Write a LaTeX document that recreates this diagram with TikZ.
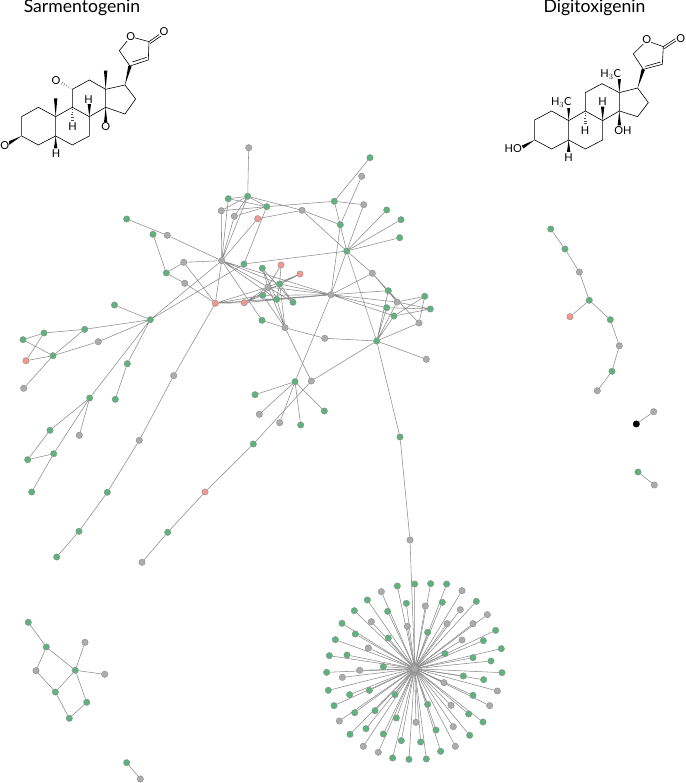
\documentclass[tikz,border=0pt]{standalone}
\usepackage{fontspec}
\setmainfont{Lato}
\usetikzlibrary{backgrounds,calc}
\definecolor{vgreen}{RGB}{92,180,124}
\definecolor{vgray}{RGB}{172,172,172}
\definecolor{vred}{RGB}{242,152,142}
\newcommand{\wedgebond}[2]{\fill[black] #1--($#2!1.7pt!90:#1$)--($#2!1.7pt!-90:#1$)--cycle;}
\newcommand{\hashbond}[2]{\foreach \hb in {.15,.35,.55,.75,.95}{
  \coordinate (hc) at ($#1!\hb!#2$);
  \draw[line width=0.4pt,black!70] ($(hc)!\hb*1.8pt!90:#1$)--($(hc)!\hb*1.8pt!-90:#1$);}}
\begin{document}
\begin{tikzpicture}[
  x=1pt,y=-1pt,
  vtx/.style={circle,draw=black!45,line width=0.4pt,inner sep=0pt,minimum size=6.4pt},
  grn/.style={vtx,fill=vgreen},
  gry/.style={vtx,fill=vgray},
  red/.style={vtx,fill=vred},
  blk/.style={vtx,fill=black,draw=black},
  edge/.style={draw=black!45,line width=0.55pt},
  bond/.style={draw=black,line width=0.6pt},
  title/.style={font=\fontsize{17.6}{20}\selectfont,anchor=base,inner sep=0pt},
  atom/.style={font=\fontsize{11}{13}\selectfont,fill=white,inner sep=0.3pt}]
\useasboundingbox (0,0) rectangle (685,783);
\node[title] (sarm) at (82,12.5) {Sarmentogenin};
\node[title] (digi) at (594.5,12.5) {Digitoxigenin};

% sarmentogenin
\begin{scope}[x=0.3333pt,y=-0.3333pt]
\draw[bond] (65,350)--(115,322)--(167,350)--(167,408)--(115,435)--(65,408)--cycle;
\draw[bond] (167,350)--(217,322)--(268,350)--(268,408)--(217,435)--(167,408);
\draw[bond] (217,322)--(217,268)--(268,240)--(317,268)--(317,322)--(268,350);
\draw[bond] (317,268)--(375,255)--(407,297)--(375,342)--(317,322);
\draw[bond] (390,198)--(445,180)--(447,125)--(392,110)--(358,152)--(390,198);
\draw[bond] (397,186)--(440,172);
\draw[bond] (447,125)--(480,102) (450,131)--(483,108);
\wedgebond{(375,255)}{(390,198)}
\wedgebond{(167,350)}{(167,295)}
\wedgebond{(317,268)}{(317,212)}
\wedgebond{(268,350)}{(268,312)}
\wedgebond{(167,408)}{(167,445)}
\wedgebond{(317,322)}{(317,368)}
\wedgebond{(65,408)}{(25,430)}
\hashbond{(217,322)}{(217,362)}
\hashbond{(217,268)}{(185,248)}
\node[atom] (so1) at (392,110) {O};
\node[atom] (so2) at (492,95) {O};
\node[atom] (so3) at (168,243) {O};
\node[atom] (so4) at (317,380) {O};
\node[atom] (so5) at (14,436) {O};
\node[atom] (sh1) at (266,298) {H};
\node[atom] (sh2) at (218,380) {H};
\node[atom] (sh3) at (168,460) {H};
\end{scope}

% digitoxigenin
\begin{scope}[shift={(490,0)},x=0.3333pt,y=-0.3333pt]
\draw[bond] (134,360)--(185,333)--(236,362)--(236,420)--(185,447)--(134,420)--cycle;
\draw[bond] (236,362)--(286,333)--(338,362)--(338,420)--(286,447)--(236,420);
\draw[bond] (286,333)--(286,278)--(336,251)--(388,278)--(388,333)--(338,362);
\draw[bond] (388,278)--(443,264)--(475,308)--(443,350)--(388,333);
\draw[bond] (460,208)--(517,193)--(520,140)--(470,122)--(430,162)--(460,208);
\draw[bond] (466,199)--(512,186);
\draw[bond] (520,140)--(556,116) (523,146)--(559,122);
\wedgebond{(443,264)}{(460,208)}
\wedgebond{(236,362)}{(236,318)}
\wedgebond{(388,278)}{(388,234)}
\wedgebond{(338,362)}{(338,320)}
\wedgebond{(236,420)}{(236,456)}
\wedgebond{(388,333)}{(388,376)}
\wedgebond{(134,420)}{(98,441)}
\hashbond{(286,333)}{(286,372)}
\node[atom] (do1) at (470,120) {O};
\node[atom] (do2) at (572,115) {O};
\node[atom] (dm1) at (214,308) {H$_3$C};
\node[atom] (dm2) at (362,223) {H$_3$C};
\node[atom] (dh1) at (338,305) {H};
\node[atom] (dh2) at (285,391) {H};
\node[atom] (dh3) at (236,473) {H};
\node[atom] (doh) at (399,392) {OH};
\node[atom] (dho) at (70,447) {HO};
\end{scope}

% large component
\node[gry] (t1) at (248.7,147.7) {};
\node[grn] (t2) at (247.7,196.3) {};
\node[grn] (t3) at (228.3,198.7) {};
\node[grn] (t4) at (266.7,206.7) {};
\node[gry] (t5) at (221.3,210.7) {};
\node[gry] (t6) at (234.3,216.3) {};
\node[red] (t7) at (257.7,218.7) {};
\node[grn] (t8) at (244,264) {};
\node[gry] (hub) at (221.7,260.7) {};
\node[grn] (l1) at (126.7,219) {};
\node[grn] (l2) at (153,234.3) {};
\node[gry] (l3) at (167.3,235.3) {};
\node[gry] (l4) at (183.7,262.3) {};
\node[grn] (l5) at (166.3,273) {};
\node[gry] (l6) at (184.7,283.3) {};
\node[red] (r1) at (215.3,303.3) {};
\node[red] (r2) at (244.3,302.7) {};
\node[grn] (c1) at (262.3,268.3) {};
\node[red] (c2) at (281,265) {};
\node[red] (c3) at (300,274) {};
\node[gry] (c4) at (268,287) {};
\node[grn] (c5) at (279.7,284) {};
\node[grn] (c6) at (262.7,295.3) {};
\node[grn] (c7) at (276.7,299.3) {};
\node[grn] (c8) at (293,302.3) {};
\node[grn] (c9) at (262,320.3) {};
\node[gry] (c10) at (285,327.7) {};
\node[grn] (m1) at (334.3,201.3) {};
\node[grn] (m2) at (370,157.7) {};
\node[gry] (m3) at (361.7,176.3) {};
\node[gry] (m4) at (363.7,204.7) {};
\node[gry] (m5) at (302,210.3) {};
\node[grn] (m6) at (340.3,224.7) {};
\node[grn] (m7) at (346.7,251) {};
\node[grn] (m8) at (386.7,210) {};
\node[grn] (m9) at (401,219.7) {};
\node[grn] (m10) at (399.7,237.7) {};
\node[gry] (mid) at (331,294.7) {};
\node[gry] (e1) at (372.3,273.3) {};
\node[grn] (e2) at (388.3,290.7) {};
\node[grn] (e3) at (424.7,296.3) {};
\node[gry] (e4) at (397,302) {};
\node[grn] (e5) at (386.7,307.7) {};
\node[grn] (e6) at (430.3,309) {};
\node[grn] (e7) at (394,316) {};
\node[gry] (e8) at (419,323) {};
\node[gry] (e9) at (324.7,338.3) {};
\node[grn] (e10) at (376.7,341) {};
\node[gry] (e11) at (426.3,359.3) {};
\node[grn] (s1) at (295,381.7) {};
\node[gry] (s2) at (311.3,381) {};
\node[grn] (s3) at (255,394.7) {};
\node[gry] (s4) at (259.3,414.3) {};
\node[gry] (s5) at (279.7,422.7) {};
\node[grn] (s6) at (300.7,425) {};
\node[grn] (s7) at (324.3,411) {};
\node[grn] (d1) at (253.3,444) {};
\node[red] (d2) at (205,492) {};
\node[grn] (d3) at (167.7,532.3) {};
\node[gry] (d4) at (142,562.3) {};
\node[gry] (f1) at (173.7,375.7) {};
\node[gry] (f2) at (139.3,440.3) {};
\node[grn] (f3) at (107.3,492.3) {};
\node[grn] (f4) at (79,531.3) {};
\node[grn] (f5) at (56.7,557) {};
\node[grn] (p1) at (150.3,319.7) {};
\node[grn] (p2) at (114.5,305) {};
\node[grn] (p3) at (84.7,329.3) {};
\node[gry] (p4) at (98.3,341.7) {};
\node[grn] (p5) at (127.3,363.7) {};
\node[grn] (p6) at (115.3,399.3) {};
\node[grn] (p7) at (44,333) {};
\node[grn] (p8) at (23,339.7) {};
\node[grn] (p9) at (53,355.7) {};
\node[red] (p10) at (26,360.7) {};
\node[gry] (p11) at (23.7,388.3) {};
\node[grn] (q1) at (89.7,398) {};
\node[grn] (q2) at (50,430.3) {};
\node[gry] (q3) at (79.3,435.3) {};
\node[grn] (q4) at (53.7,453.7) {};
\node[grn] (q5) at (27.7,459.7) {};
\node[grn] (q6) at (31.7,492) {};
\node[grn] (g1) at (400,437) {};
\node[gry] (g2) at (410,540) {};
\node[gry] (star) at (414.7,668.7) {};

% small components
\node[grn] (b1) at (28.3,622.3) {};
\node[grn] (b2) at (46.3,647) {};
\node[gry] (b3) at (85,642.3) {};
\node[gry] (b4) at (36,670.7) {};
\node[grn] (b5) at (75.3,670.3) {};
\node[gry] (b6) at (104.7,674.3) {};
\node[grn] (b7) at (55.3,692) {};
\node[grn] (b8) at (86.7,702.3) {};
\node[grn] (b9) at (69.3,718.3) {};
\node[grn] (u1) at (126.7,762.7) {};
\node[gry] (u2) at (140.3,779) {};
\node[grn] (w1) at (550.7,229) {};
\node[grn] (w2) at (565,249) {};
\node[gry] (w3) at (579.3,272) {};
\node[grn] (w4) at (589.3,300.3) {};
\node[red] (w5) at (570,316.7) {};
\node[grn] (w6) at (610.3,319.7) {};
\node[gry] (w7) at (619.3,345.7) {};
\node[grn] (w8) at (612,371.3) {};
\node[gry] (w9) at (597.3,390.7) {};
\node[blk] (x1) at (636.3,424) {};
\node[gry] (x2) at (653.7,411.7) {};
\node[grn] (x3) at (638,472) {};
\node[gry] (x4) at (654.3,485) {};

\begin{scope}[on background layer]
\draw[edge] (t1)--(t2) (t2)--(t3) (t2)--(t4) (t2)--(t5) (t2)--(t6) (t2)--(hub) (t3)--(hub) (t3)--(t4)
  (t5)--(hub) (t5)--(t4) (t6)--(hub) (t6)--(t4) (t7)--(hub) (t7)--(m5) (t4)--(t8) (t4)--(m1) (t2)--(m5) (t8)--(m7);
\draw[edge] (hub)--(l3) (l3)--(l1) (hub)--(l4) (l4)--(l5) (l5)--(l2) (l4)--(r1) (l6)--(l5) (l6)--(r1)
  (hub)--(r1) (hub)--(p1) (t8)--(p1) (hub)--(c9) (hub)--(c4) (hub)--(c5) (hub)--(mid) (hub)--(c7);
\draw[edge] (r1)--(f1) (f1)--(f2) (f2)--(f3) (f3)--(f4) (f4)--(f5)
  (r1)--(r2) (r1)--(c6) (r1)--(c4) (r1)--(mid) (r2)--(c6) (r2)--(c4) (r2)--(c5) (r2)--(mid) (r2)--(c7) (r2)--(c3);
\draw[edge] (c1)--(c4) (c1)--(c7) (c1)--(c8) (c2)--(c4) (c2)--(c5) (c2)--(c6) (c3)--(c5) (c3)--(c4)
  (c4)--(c10) (c5)--(c10) (c6)--(c10) (c7)--(c10) (c4)--(c8) (c5)--(c8) (c5)--(c7)
  (c5)--(mid) (c4)--(mid) (c6)--(mid) (c7)--(mid) (c9)--(c10);
\draw[edge] (c10)--(e9) (e9)--(e10) (c10)--(s2) (s2)--(e10) (s2)--(d1) (d1)--(d2) (d2)--(d3) (d3)--(d4);
\draw[edge] (m1)--(m2) (m1)--(m4) (m1)--(m7) (m5)--(m6) (m5)--(m7) (m3)--(m6) (m6)--(mid) (m4)--(m7)
  (m7)--(m8) (m7)--(m9) (m7)--(m10) (m7)--(mid) (m7)--(e1) (m7)--(e10);
\draw[edge] (mid)--(e1) (mid)--(e2) (mid)--(e4) (mid)--(e5) (mid)--(e7) (mid)--(s1)
  (e1)--(e2) (e1)--(e4) (e2)--(e8) (e2)--(e4) (e2)--(e10) (e4)--(e10) (e5)--(e10) (e7)--(e10) (e8)--(e10) (e10)--(e11)
  (e3)--(e4) (e3)--(e7) (e3)--(e8) (e6)--(e4) (e6)--(e7) (e6)--(e5);
\draw[edge] (s1)--(s3) (s1)--(s4) (s1)--(s5) (s1)--(s6) (s1)--(s7);
\draw[edge] (p1)--(p2) (p1)--(p3) (p1)--(p4) (p1)--(p5) (p1)--(q1) (p5)--(p6) (p3)--(p7) (p7)--(p8) (p7)--(p10)
  (p8)--(p9) (p10)--(p9) (p9)--(p3) (p9)--(p4) (p9)--(p11);
\draw[edge] (q1)--(q2) (q1)--(q3) (q1)--(q4) (q2)--(q5) (q5)--(q4) (q4)--(q6);
\draw[edge] (e10)--(g1) (g1)--(g2) (g2)--(star);
\draw[edge] (b1)--(b2) (b2)--(b4) (b2)--(b5) (b3)--(b5) (b4)--(b7) (b5)--(b6) (b5)--(b7) (b5)--(b8) (b7)--(b9) (b8)--(b9);
\draw[edge] (u1)--(u2);
\draw[edge] (w1)--(w2) (w2)--(w3) (w3)--(w4) (w4)--(w5) (w4)--(w6) (w6)--(w7) (w7)--(w8) (w8)--(w9);
\draw[edge] (x1)--(x2) (x3)--(x4);
\end{scope}

% spokes of the star
\begin{scope}[shift={(320,570)},x=0.3333pt,y=-0.3333pt]
\foreach \pos [count=\i] in {(232,48),(284,42),(332,41),(380,42),(142,90),(259,100),(367,97),(469,94),(103,122),
  (203,124),(66,160),(323,187),(527,181),(106,192),(205,204),(490,212),(46,209),(544,236),(375,251),(28,257),
  (81,255),(459,263),(513,273),(190,290),(20,307),(546,308),(430,318),(491,329),(148,361),(25,361),(89,374),
  (225,374),(459,376),(42,407),(323,403),(165,422),(104,428),(446,432),(229,444),(489,456),(138,476),(348,480),
  (190,492),(90,493),(449,496),(244,512),(302,516),(362,544),(218,564),(267,568),(319,567)}{
  \node[grn] (sg\i) at \pos {};
  \begin{scope}[on background layer]\draw[edge] (star)--(sg\i);\end{scope}
}
\foreach \pos [count=\i] in {(426,62),(184,65),(316,108),(421,119),(502,134),(154,155),(262,169),(381,161),
  (459,161),(426,210),(145,234),(119,301),(67,322),(372,338),(532,363),(393,406),(509,407),(58,453),(288,457),
  (400,470),(130,529),(406,529),(175,547)}{
  \node[gry] (sy\i) at \pos {};
  \begin{scope}[on background layer]\draw[edge] (star)--(sy\i);\end{scope}
}
\end{scope}
\end{tikzpicture}
\end{document}
